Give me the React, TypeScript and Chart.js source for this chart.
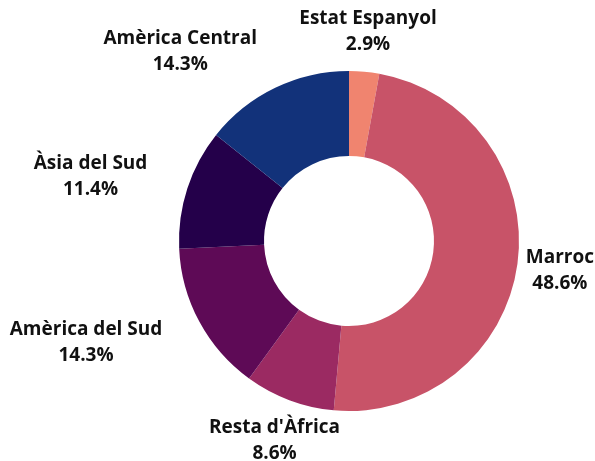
import React, { useEffect, useRef } from "react";
import { Chart, registerables } from "chart.js";

Chart.register(...registerables);

const categories = ["Estat Espanyol", "Marroc", "Resta d'Àfrica", "Amèrica del Sud", "Àsia del Sud", "Amèrica Central"];
const counts = [1, 17, 3, 5, 4, 5];
const colors = ["#f0846f", "#c85368", "#9b2a62", "#5e0a56", "#24004a", "#12327a"];

const FONT = "bold 19px 'Open Sans', sans-serif";

const labelPlugin = {
  id: "outerLabels",
  afterDatasetsDraw(chart: any) {
    const { ctx } = chart;
    const meta = chart.getDatasetMeta(0);
    const data = chart.data.datasets[0].data as number[];
    const total = data.reduce((a, b) => a + b, 0);
    const W = chart.width;
    ctx.save();
    ctx.font = FONT;
    ctx.fillStyle = "#111111";
    ctx.textAlign = "center";
    ctx.textBaseline = "middle";
    meta.data.forEach((arc: any, i: number) => {
      const p = arc.getProps(["x", "y", "startAngle", "endAngle", "outerRadius"], true);
      const mid = (p.startAngle + p.endAngle) / 2;
      const r = p.outerRadius + 42;
      const px = p.x + Math.cos(mid) * r;
      const py = p.y + Math.sin(mid) * r + 1.5;
      const lines = [chart.data.labels[i] as string, ((data[i] / total) * 100).toFixed(1) + "%"];
      const w = Math.max(...lines.map((l) => ctx.measureText(l).width));
      const c = Math.cos(mid);
      let cx = px;
      if (c < -0.4) cx = px - w / 2;
      else if (c > 0.4) cx = px + w / 2;
      cx = Math.min(Math.max(cx, w / 2 + 1), W - w / 2 - 1);
      const lh = 26;
      lines.forEach((l, k) => {
        ctx.fillText(l, cx, py + (k - (lines.length - 1) / 2) * lh);
      });
    });
    ctx.restore();
  },
};

export default function App() {
  const ref = useRef<HTMLCanvasElement>(null);
  useEffect(() => {
    document.body.style.margin = "0";
    const chart = new Chart(ref.current!, {
      type: "doughnut",
      data: {
        labels: categories,
        datasets: [
          {
            data: counts,
            backgroundColor: colors,
            borderWidth: 0,
          },
        ],
      },
      options: {
        animation: false,
        responsive: false,
        cutout: "50%",
        layout: { padding: { top: 71, bottom: 50, left: 179, right: 76 } },
        plugins: {
          legend: { display: false },
          tooltip: { enabled: false },
          title: { display: false },
        },
      },
      plugins: [labelPlugin],
    });
    return () => chart.destroy();
  }, []);
  return (
    <div style={{ width: 595, height: 461 }}>
      <canvas ref={ref} width={595} height={461} style={{ display: "block" }} />
    </div>
  );
}
